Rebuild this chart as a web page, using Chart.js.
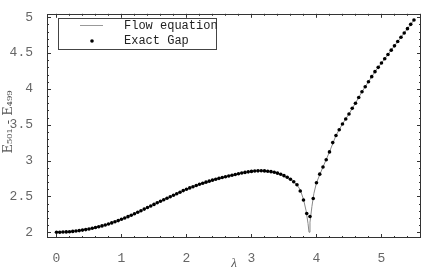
<!DOCTYPE html>
<html>
<head>
<meta charset="utf-8">
<script src="https://cdn.jsdelivr.net/npm/chart.js@4/dist/chart.umd.min.js"></script>
<style>
  body { margin: 0; background: #fff; }
  #wrap { width: 428px; height: 273px; }
</style>
</head>
<body>
<div id="wrap"><canvas id="gapChart" width="428" height="273"></canvas></div>
<script>
// exact gap, sampled every 0.05 in lambda
var gapLambda = [0, 0.05, 0.1, 0.15, 0.2, 0.25, 0.3, 0.35, 0.4, 0.45, 0.5, 0.55, 0.6, 0.65, 0.7, 0.75, 0.8, 0.85, 0.9, 0.95,
  1, 1.05, 1.1, 1.15, 1.2, 1.25, 1.3, 1.35, 1.4, 1.45, 1.5, 1.55, 1.6, 1.65, 1.7, 1.75, 1.8, 1.85, 1.9, 1.95,
  2, 2.05, 2.1, 2.15, 2.2, 2.25, 2.3, 2.35, 2.4, 2.45, 2.5, 2.55, 2.6, 2.65, 2.7, 2.75, 2.8, 2.85, 2.9, 2.95,
  3, 3.05, 3.1, 3.15, 3.2, 3.25, 3.3, 3.35, 3.4, 3.45, 3.5, 3.55, 3.6, 3.65, 3.7, 3.75, 3.8, 3.85, 3.9, 3.95,
  4, 4.05, 4.1, 4.15, 4.2, 4.25, 4.3, 4.35, 4.4, 4.45, 4.5, 4.55, 4.6, 4.65, 4.7, 4.75, 4.8, 4.85, 4.9, 4.95,
  5, 5.05, 5.1, 5.15, 5.2, 5.25, 5.3, 5.35, 5.4, 5.45, 5.5];
var gapValues = [2.000, 2.000, 2.002, 2.004, 2.007, 2.011, 2.016, 2.022, 2.029, 2.036, 2.045, 2.054, 2.065, 2.076, 2.088, 2.101, 2.115, 2.130, 2.146, 2.162,
  2.180, 2.198, 2.217, 2.237, 2.258, 2.279, 2.300, 2.322, 2.344, 2.366, 2.388, 2.410, 2.431, 2.452, 2.473, 2.494, 2.515, 2.536, 2.557, 2.580,
  2.600, 2.618, 2.635, 2.652, 2.668, 2.683, 2.698, 2.712, 2.726, 2.739, 2.751, 2.763, 2.774, 2.785, 2.795, 2.805, 2.815, 2.825, 2.834, 2.842,
  2.848, 2.853, 2.856, 2.857, 2.855, 2.851, 2.845, 2.836, 2.824, 2.808, 2.789, 2.766, 2.738, 2.704, 2.662, 2.575, 2.450, 2.260, 2.220, 2.470,
  2.690, 2.810, 2.910, 3.010, 3.120, 3.250, 3.350, 3.430, 3.510, 3.580, 3.650, 3.730, 3.800, 3.880, 3.960, 4.030, 4.100, 4.170, 4.240, 4.300,
  4.360, 4.420, 4.480, 4.540, 4.600, 4.660, 4.720, 4.780, 4.840, 4.900, 4.960];

// flow equation curve
var flowLambda = [0, 0.1, 0.2, 0.3, 0.4, 0.5, 0.6, 0.7, 0.8, 0.9, 1, 1.1, 1.2, 1.3, 1.4, 1.5, 1.6, 1.7, 1.8, 1.9,
  2, 2.1, 2.2, 2.3, 2.4, 2.5, 2.6, 2.7, 2.8, 2.9, 3, 3.1, 3.2, 3.3, 3.4, 3.5, 3.6, 3.7, 3.75, 3.8, 3.84, 3.87, 3.885,
  3.9, 3.93, 3.96, 4, 4.1, 4.2, 4.3, 4.4, 4.5, 4.6, 4.7, 4.8, 4.9, 5, 5.1, 5.2, 5.3, 5.4, 5.5];
var flowValues = [2.000, 2.002, 2.007, 2.016, 2.029, 2.045, 2.065, 2.088, 2.115, 2.146, 2.180, 2.217, 2.258, 2.300, 2.344, 2.388, 2.431, 2.473, 2.515, 2.557,
  2.600, 2.635, 2.668, 2.698, 2.726, 2.751, 2.774, 2.795, 2.815, 2.834, 2.848, 2.856, 2.855, 2.845, 2.824, 2.789, 2.738, 2.662, 2.590, 2.460, 2.300, 2.120, 2.000,
  2.140, 2.360, 2.540, 2.690, 2.910, 3.120, 3.350, 3.510, 3.650, 3.800, 3.960, 4.100, 4.240, 4.360, 4.480, 4.600, 4.720, 4.840, 4.960];

var xTicks = [0, 1, 2, 3, 4, 5];
var yTicks = [2, 2.5, 3, 3.5, 4, 4.5, 5];
var yTitle = 'E\u2085\u2080\u2081 - E\u2084\u2089\u2089';

function toPoints(xs, ys) {
  var pts = [];
  for (var i in xs) pts.push({x: xs[i], y: ys[i]});
  return pts;
}

var labelFont = {family: 'Liberation Mono', size: 13};

// frame with inward ticks, legend box and axis titles
const framePlugin = {
  id: 'framePlugin',
  afterDraw(chart) {
    const ctx = chart.ctx, a = chart.chartArea, xs = chart.scales.x, ys = chart.scales.y;
    ctx.save();
    ctx.strokeStyle = '#333';
    ctx.lineWidth = 1;
    ctx.strokeRect(Math.round(a.left) + 0.5, Math.round(a.top) + 0.5,
      Math.round(a.right - a.left) - 1, Math.round(a.bottom - a.top) - 1);

    ctx.beginPath();
    for (var v = 0; v <= 5.61; v += 0.2) {
      var major = Math.abs(v - Math.round(v)) < 1e-6;
      var len = major ? 4 : 2;
      var px = Math.round(xs.getPixelForValue(v)) + 0.5;
      ctx.moveTo(px, a.bottom); ctx.lineTo(px, a.bottom - len);
      ctx.moveTo(px, a.top); ctx.lineTo(px, a.top + len);
    }
    for (var w = 2; w <= 5.001; w += 0.1) {
      var majorY = Math.abs(w * 2 - Math.round(w * 2)) < 1e-6;
      var lenY = majorY ? 4 : 2;
      var py = Math.round(ys.getPixelForValue(w)) + 0.5;
      ctx.moveTo(a.left, py); ctx.lineTo(a.left + lenY, py);
      ctx.moveTo(a.right, py); ctx.lineTo(a.right - lenY, py);
    }
    ctx.stroke();

    // legend
    ctx.strokeStyle = '#444';
    ctx.strokeRect(58.5, 18.5, 158, 31);
    ctx.strokeStyle = '#999';
    ctx.beginPath(); ctx.moveTo(80, 25.5); ctx.lineTo(103, 25.5); ctx.stroke();
    ctx.fillStyle = '#000';
    ctx.beginPath(); ctx.arc(92, 41, 1.8, 0, Math.PI * 2); ctx.fill();
    ctx.font = '12px "Liberation Mono"';
    ctx.fillStyle = '#222';
    ctx.textBaseline = 'middle';
    ctx.textAlign = 'left';
    ctx.fillText(chart.data.datasets[1].label, 124, 26);
    ctx.fillText(chart.data.datasets[0].label, 124, 41);

    // x title
    ctx.font = 'italic 13px "Liberation Serif"';
    ctx.fillStyle = '#555';
    ctx.textAlign = 'center';
    ctx.fillText('\u03bb', (a.left + a.right) / 2, 264);

    // y title
    ctx.translate(9, 122);
    ctx.rotate(-Math.PI / 2);
    ctx.font = '13px "DejaVu Serif"';
    ctx.textBaseline = 'middle';
    ctx.textAlign = 'center';
    ctx.fillText(yTitle, 0, 0);
    ctx.restore();
  }
};

const gapCanvas = document.getElementById('gapChart');

let gapChart = new Chart(gapCanvas, {
  type: 'scatter',
  data: {
    datasets: [
      {
        label: 'Exact Gap',
        data: toPoints(gapLambda, gapValues),
        showLine: false,
        pointRadius: 1.8,
        pointBackgroundColor: '#000',
        pointBorderWidth: 0
      },
      {
        label: 'Flow equation',
        data: toPoints(flowLambda, flowValues),
        showLine: true,
        borderColor: '#888',
        borderWidth: 1,
        pointRadius: 0,
        tension: 0
      }
    ]
  },
  options: {
    responsive: false,
    animation: false,
    layout: {padding: {top: 5, right: 7, left: 0, bottom: 0}},
    plugins: {legend: {display: false}, tooltip: {enabled: false}},
    scales: {
      x: {
        type: 'linear',
        min: -0.146,
        max: 5.608,
        afterBuildTicks: function(scale) { scale.ticks = xTicks.map(function(v) { return {value: v}; }); },
        afterFit: function(scale) { scale.height = 35; },
        grid: {display: false},
        border: {display: false},
        ticks: {font: labelFont, color: '#666', padding: 5, maxRotation: 0, autoSkip: false,
          callback: function(v) { return String(v); }}
      },
      y: {
        min: 1.919,
        max: 5.047,
        afterBuildTicks: function(scale) { scale.ticks = yTicks.map(function(v) { return {value: v}; }); },
        afterFit: function(scale) { scale.width = 47; },
        grid: {display: false},
        border: {display: false},
        ticks: {font: labelFont, color: '#666', padding: 6, autoSkip: false,
          callback: function(v) { return String(v); }}
      }
    }
  },
  plugins: [framePlugin]
});
</script>
</body>
</html>
